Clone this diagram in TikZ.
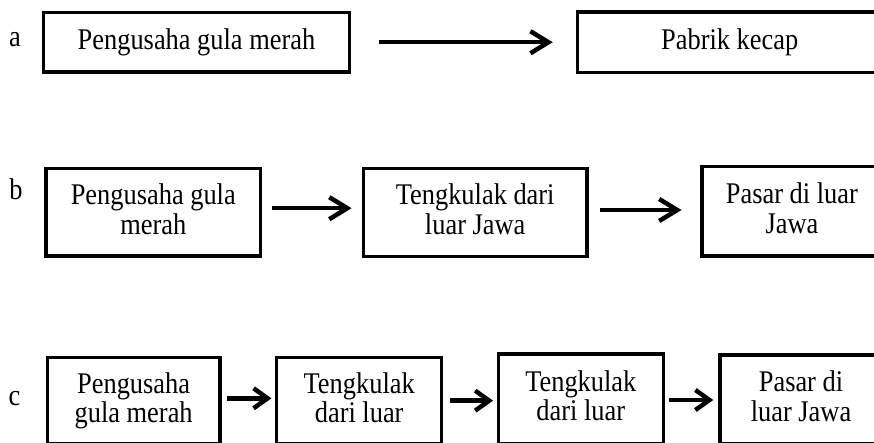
\documentclass[tikz,border=0pt]{standalone}
\usepackage{fontspec}
\setmainfont{Liberation Serif}[FakeStretch=0.88]
\usetikzlibrary{arrows.meta}
\tikzset{
  box/.style={draw, line width=3.5pt, rectangle, align=center, inner sep=0pt,
    font=\fontsize{30}{29.5}\selectfont},
  arr/.style={line width=4.5pt, -{Straight Barb[length=18pt,width=22pt]}},
  arrc/.style={line width=4.5pt, -{Straight Barb[length=14pt,width=20pt]}},
  lbl/.style={anchor=base, inner sep=0pt, font=\fontsize{30}{29.5}\selectfont}
}
\newcommand{\mydepth}{\vphantom{g}}
\begin{document}
\begin{tikzpicture}[x=1pt,y=-1pt]
\useasboundingbox (0,0) rectangle (874,443);
\clip (0,0) rectangle (874,443);
% row a
\node[lbl] (la) at (15,47) {a};
\node[box, minimum width=306pt, minimum height=59.5pt] (A1) at (196.5,42.25) {Pengusaha gula merah};
\node[box, minimum width=304.5pt, minimum height=60.5pt] (A2) at (729.75,42.25) {Pabrik kecap};
\draw[arr, shorten <=28pt, shorten >=23pt] (A1.east) -- (A1.east -| A2.west);
% row b
\node[lbl] (lb) at (16,200) {b};
\node[box, minimum width=214.7pt, minimum height=87.7pt] (B1) at (153.3,212.2) {Pengusaha gula\\merah\mydepth};
\node[box, minimum width=223.7pt, minimum height=88.4pt] (B2) at (475.2,212.5) {Tengkulak dari\\luar Jawa\mydepth};
\node[box, minimum width=180.3pt, minimum height=89.3pt] (B3) at (791.9,211.4) {Pasar di luar\\Jawa\mydepth};
\draw[arr, shorten <=9.5pt, shorten >=10pt] ([yshift=4pt]B1.east) -- ([yshift=4pt]B1.east -| B2.west);
\draw[arr, shorten <=11.5pt, shorten >=18.5pt] ([yshift=2.5pt]B2.east) -- ([yshift=2.5pt]B2.east -| B3.west);
% row c
\node[lbl] (lc) at (14.5,405) {c};
\node[box, minimum width=172.7pt, minimum height=86.7pt] (C1) at (133.65,400.65) {Pengusaha\\gula merah};
\node[box, minimum width=165pt, minimum height=86.7pt] (C2) at (359.2,400.65) {Tengkulak\\dari luar\mydepth};
\node[box, minimum width=165pt, minimum height=89.5pt] (C3) at (580.8,398.75) {Tengkulak\\dari luar\mydepth};
\node[box, minimum width=162pt, minimum height=89pt] (C4) at (801,399.5) {Pasar di\\luar Jawa\mydepth};
\draw[arrc, shorten <=5pt, shorten >=3.5pt] ([yshift=2.35pt]C1.east) -- ([yshift=2.35pt]C1.east -| C2.west);
\draw[arrc, shorten <=7pt, shorten >=3.5pt] (C2.east) -- (C2.east -| C3.west);
\draw[arrc, shorten <=3.5pt, shorten >=5pt] ([yshift=-1.25pt]C3.east) -- ([yshift=-1.25pt]C3.east -| C4.west);
\end{tikzpicture}
\end{document}
